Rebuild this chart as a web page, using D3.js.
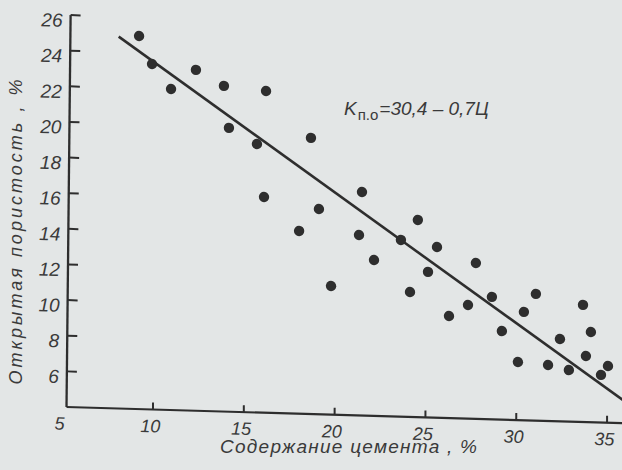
<!DOCTYPE html>
<html>
<head>
<meta charset="utf-8">
<script src="https://cdn.jsdelivr.net/npm/d3@7"></script>
<style>
  html, body { margin: 0; padding: 0; background: #e4e7e7; }
  svg { display: block; }
  text { font-family: "Liberation Sans", Arial, sans-serif; font-style: italic; fill: #3a3a3a; }
</style>
</head>
<body>
<script>
// Cement content, % (x) and open porosity, % (y) for each specimen
const cement = [9.02, 9.75, 12.17, 10.81, 13.72, 14.02, 16.04, 15.57, 15.99, 18.54,
                17.94, 19.02, 21.24, 21.38, 19.73, 22.08, 23.55, 24.47, 24.08, 25.06,
                25.54, 26.24, 27.28, 27.69, 28.59, 29.16, 30.36, 31.01, 30.06, 31.72,
                32.36, 32.87, 33.61, 34.06, 33.80, 34.64, 35.02];
const porosity = [24.94, 23.39, 23.13, 22.02, 22.28, 19.93, 22.06, 19.07, 16.11, 19.50,
                  14.26, 15.52, 14.13, 16.55, 11.22, 12.75, 13.92, 15.07, 11.01, 12.17,
                  13.58, 9.73, 10.38, 12.75, 10.87, 8.97, 10.08, 11.11, 7.26, 7.14,
                  8.62, 6.89, 10.57, 9.06, 7.71, 6.67, 7.18];

// Regression K = 30.4 - 0.7·C
const intercept = 30.4;
const slope = -0.7;
const fitRange = [7.9, 36.2];

const xTicks = [5, 10, 15, 20, 25, 30, 35];
const yTicks = [6, 8, 10, 12, 14, 16, 18, 20, 22, 24, 26];
const xAxisSpan = [5.24, 36.2];
const yAxisSpan = [4, 26];

const W = 622, H = 470;
const ink = "#2e2e2e";

// page tilt: plot units -> screen pixels
const M = { a: 0.99958, b: 0.02897, c: -0.01047, d: 0.99995, e: 66.5, f: 407 };
const toScreen = (px, py) => [M.a * px + M.c * py + M.e, M.b * px + M.d * py + M.f];

const svg = d3.select("body").append("svg").attr("width", W).attr("height", H);
svg.append("rect").attr("width", W).attr("height", H).attr("fill", "#e3e6e6");

const g = svg.append("g")
  .attr("transform", `matrix(${M.a},${M.b},${M.c},${M.d},${M.e},${M.f})`);

const x = d3.scaleLinear().domain([5, 35]).range([-4.35, 540.75]);
const y = d3.scaleLinear().domain([4, 26]).range([0, -391.9]);

// tick labels from d3 axes
const gy = g.append("g")
  .attr("transform", `translate(${x(xAxisSpan[0])},0)`)
  .call(d3.axisLeft(y).tickValues(yTicks).tickSizeInner(0).tickSizeOuter(0).tickPadding(8));
gy.select(".domain").remove();
gy.selectAll(".tick line").remove();
gy.selectAll(".tick text").attr("dy", "0.6em").attr("font-size", 19);

const gx = g.append("g")
  .attr("transform", `translate(0,${y(yAxisSpan[0])})`)
  .call(d3.axisBottom(x).tickValues(xTicks).tickSizeInner(0).tickSizeOuter(0).tickPadding(10));
gx.select(".domain").remove();
gx.selectAll(".tick line").remove();
gx.selectAll(".tick text").attr("dx", -3).attr("font-size", 18);

// axis lines and tick marks, placed in screen space
const frame = svg.append("g").attr("fill", "none").attr("stroke", ink);
const seg = (p0, p1, w) => {
  const s0 = toScreen(p0[0], p0[1]), s1 = toScreen(p1[0], p1[1]);
  frame.append("path").attr("d", `M${s0[0]},${s0[1]}L${s1[0]},${s1[1]}`).attr("stroke-width", w);
};
const x0 = x(xAxisSpan[0]), y0 = y(yAxisSpan[0]);
seg([x0, y0], [x0, y(yAxisSpan[1])], 2.3);
seg([x0, y0], [x(xAxisSpan[1]), y0], 2.2);
yTicks.forEach(v => seg([x0, y(v)], [x0 + 10, y(v)], 2));
xTicks.filter(v => v > xAxisSpan[0]).forEach(v => seg([x(v), y0], [x(v), y0 - 7], 2));

// regression line
g.append("line")
  .attr("x1", x(fitRange[0])).attr("y1", y(intercept + slope * fitRange[0]))
  .attr("x2", x(fitRange[1])).attr("y2", y(intercept + slope * fitRange[1]))
  .attr("stroke", ink).attr("stroke-width", 2.6);

// specimens
g.selectAll("circle.pt")
  .data(cement.map((c, i) => [c, porosity[i]]))
  .join("circle").attr("class", "pt")
  .attr("cx", d => x(d[0])).attr("cy", d => y(d[1]))
  .attr("r", 5.2).attr("fill", ink);

// equation
const eq = svg.append("text").attr("x", 344).attr("y", 115).attr("font-size", 19);
eq.append("tspan").text("K");
eq.append("tspan").attr("dy", 5).attr("dx", 1).attr("font-size", 15).attr("font-style", "normal").text("п.о");
eq.append("tspan").attr("dy", -5).attr("dx", 1).text("=30,4 – 0,7Ц");

// axis titles
svg.append("text")
  .attr("transform", "translate(22,232) rotate(-90)")
  .attr("text-anchor", "middle").attr("font-size", 18)
  .attr("textLength", 305).attr("lengthAdjust", "spacing")
  .text("Открытая пористость , %");

svg.append("text")
  .attr("x", 220).attr("y", 453).attr("font-size", 19)
  .attr("textLength", 257).attr("lengthAdjust", "spacing")
  .text("Содержание цемента , %");
</script>
</body>
</html>
